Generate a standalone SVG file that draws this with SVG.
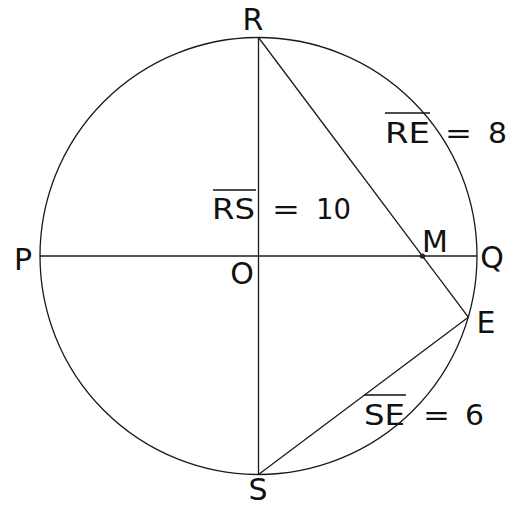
<svg xmlns="http://www.w3.org/2000/svg" width="517" height="508" viewBox="0 0 517 508">
<style>
.ln{stroke:#1a1a1a;stroke-width:1.3;fill:none}
.lb{font-family:"DejaVu Sans",sans-serif;font-size:30px;fill:#111;text-anchor:middle}
.fm{font-family:"DejaVu Sans",sans-serif;font-size:29px;fill:#111}
.ov{stroke:#111;stroke-width:1.4}
</style>
<rect width="517" height="508" fill="#fff"/>
<g id="connectors">
<circle class="ln" cx="258.5" cy="256" r="218.5"/>
<line class="ln" x1="258.5" y1="37.5" x2="258.5" y2="474.5"/>
<line class="ln" x1="40" y1="256" x2="477" y2="256"/>
<line class="ln" x1="258.5" y1="37.5" x2="468.3" y2="317.2"/>
<line class="ln" x1="258.5" y1="474.5" x2="468.3" y2="317.2"/>
</g>
<g id="R"><text class="lb" x="253" y="30">R</text></g>
<g id="P"><text class="lb" x="23" y="270">P</text></g>
<g id="Q"><text class="lb" x="492" y="268">Q</text></g>
<g id="O"><text class="lb" x="242" y="284">O</text></g>
<g id="S"><text class="lb" x="258" y="500">S</text></g>
<g id="E"><text class="lb" x="486" y="333">E</text></g>
<g id="M"><circle cx="422.4" cy="256" r="2.6" fill="#222"/><text class="lb" x="435" y="252">M</text></g>
<g id="RS-label">
<line class="ov" x1="213" y1="190" x2="256" y2="190"/>
<text class="fm" x="212" y="219" textLength="43" lengthAdjust="spacingAndGlyphs">RS</text>
<text class="fm" x="272" y="219" textLength="28" lengthAdjust="spacingAndGlyphs">=</text>
<text class="fm" x="316" y="219" textLength="35" lengthAdjust="spacingAndGlyphs">10</text>
</g>
<g id="RE-label">
<line class="ov" x1="385" y1="113" x2="430" y2="113"/>
<text class="fm" x="385" y="143" textLength="45" lengthAdjust="spacingAndGlyphs">RE</text>
<text class="fm" x="445" y="143" textLength="27" lengthAdjust="spacingAndGlyphs">=</text>
<text class="fm" x="488" y="143" textLength="19" lengthAdjust="spacingAndGlyphs">8</text>
</g>
<g id="SE-label">
<line class="ov" x1="364" y1="395" x2="406" y2="395"/>
<text class="fm" x="364" y="425" textLength="41" lengthAdjust="spacingAndGlyphs">SE</text>
<text class="fm" x="423" y="425" textLength="27" lengthAdjust="spacingAndGlyphs">=</text>
<text class="fm" x="465" y="425" textLength="19" lengthAdjust="spacingAndGlyphs">6</text>
</g>
</svg>
